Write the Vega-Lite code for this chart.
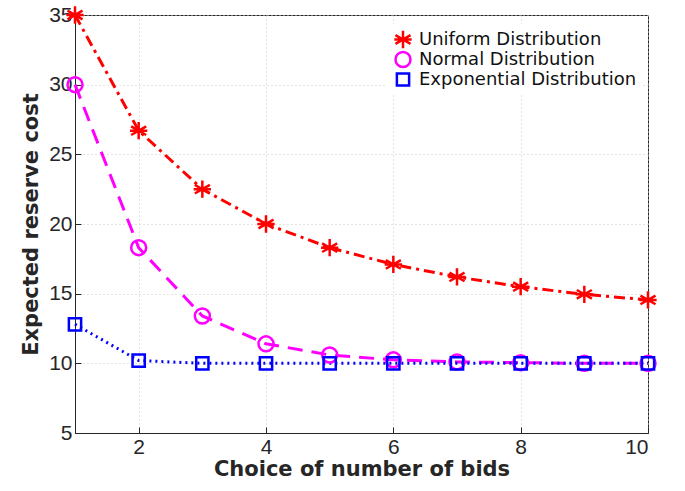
{
  "$schema": "https://vega.github.io/schema/vega-lite/v6.json",
  "autosize": {"type": "none"},
  "padding": {"left": 75, "top": 15, "right": 37, "bottom": 58},
  "width": 573,
  "height": 418,
  "background": "white",
  "config": {
    "font": "Liberation Sans",
    "view": {"stroke": "#262626", "strokeWidth": 1},
    "axis": {
      "labelFont": "Liberation Sans",
      "labelFontSize": 21,
      "labelColor": "#262626",
      "titleFont": "DejaVu Sans",
      "titleFontSize": 21,
      "titleFontWeight": "bold",
      "titleColor": "#262626",
      "domainColor": "#262626",
      "tickColor": "#262626",
      "tickSize": -6,
      "labelPadding": 9,
      "grid": true,
      "gridDash": [1, 3],
      "gridColor": "#c8c8c8"
    }
  },
  "data": {
    "values": [
      {"n": 1, "cost": 35, "dist": "Uniform Distribution"},
      {"n": 2, "cost": 26.7, "dist": "Uniform Distribution"},
      {"n": 3, "cost": 22.5, "dist": "Uniform Distribution"},
      {"n": 4, "cost": 20.0, "dist": "Uniform Distribution"},
      {"n": 5, "cost": 18.3, "dist": "Uniform Distribution"},
      {"n": 6, "cost": 17.1, "dist": "Uniform Distribution"},
      {"n": 7, "cost": 16.2, "dist": "Uniform Distribution"},
      {"n": 8, "cost": 15.5, "dist": "Uniform Distribution"},
      {"n": 9, "cost": 14.95, "dist": "Uniform Distribution"},
      {"n": 10, "cost": 14.55, "dist": "Uniform Distribution"},
      {"n": 1, "cost": 30, "dist": "Normal Distribution"},
      {"n": 2, "cost": 18.3, "dist": "Normal Distribution"},
      {"n": 3, "cost": 13.4, "dist": "Normal Distribution"},
      {"n": 4, "cost": 11.4, "dist": "Normal Distribution"},
      {"n": 5, "cost": 10.6, "dist": "Normal Distribution"},
      {"n": 6, "cost": 10.25, "dist": "Normal Distribution"},
      {"n": 7, "cost": 10.1, "dist": "Normal Distribution"},
      {"n": 8, "cost": 10.05, "dist": "Normal Distribution"},
      {"n": 9, "cost": 10.0, "dist": "Normal Distribution"},
      {"n": 10, "cost": 10.0, "dist": "Normal Distribution"},
      {"n": 1, "cost": 12.8, "dist": "Exponential Distribution"},
      {"n": 2, "cost": 10.2, "dist": "Exponential Distribution"},
      {"n": 3, "cost": 10.0, "dist": "Exponential Distribution"},
      {"n": 4, "cost": 10.0, "dist": "Exponential Distribution"},
      {"n": 5, "cost": 10.0, "dist": "Exponential Distribution"},
      {"n": 6, "cost": 10.0, "dist": "Exponential Distribution"},
      {"n": 7, "cost": 10.0, "dist": "Exponential Distribution"},
      {"n": 8, "cost": 10.0, "dist": "Exponential Distribution"},
      {"n": 9, "cost": 10.0, "dist": "Exponential Distribution"},
      {"n": 10, "cost": 10.0, "dist": "Exponential Distribution"}
    ]
  },
  "encoding": {
    "x": {
      "field": "n", "type": "quantitative",
      "scale": {"domain": [1, 10], "nice": false, "zero": false},
      "axis": {"values": [2, 4, 6, 8, 10], "title": "Choice of number of bids", "titlePadding": 1}
    },
    "y": {
      "field": "cost", "type": "quantitative",
      "scale": {"domain": [5, 35], "nice": false, "zero": false},
      "axis": {"values": [5, 10, 15, 20, 25, 30, 35], "title": "Expected reserve cost", "titlePadding": 7}
    },
    "color": {
      "field": "dist", "type": "nominal",
      "sort": ["Uniform Distribution", "Normal Distribution", "Exponential Distribution"],
      "scale": {
        "domain": ["Uniform Distribution", "Normal Distribution", "Exponential Distribution"],
        "range": ["#ff0000", "#ff00ff", "#0000ff"]
      },
      "legend": {
        "title": null,
        "orient": "none",
        "legendX": 312,
        "legendY": 9,
        "labelFontSize": 18,
        "labelFont": "DejaVu Sans",
        "labelColor": "#111111",
        "labelLimit": 0,
        "symbolSize": 150,
        "symbolStrokeWidth": 2.5,
        "rowPadding": 1,
        "clipHeight": 19,
        "fillColor": "white",
        "padding": 6,
        "labelOffset": 6
      }
    }
  },
  "layer": [
    {
      "transform": [{"filter": "datum.dist === 'Uniform Distribution'"}],
      "mark": {"type": "line", "strokeWidth": 3, "strokeDash": [11, 5, 3, 5]}
    },
    {
      "transform": [{"filter": "datum.dist === 'Normal Distribution'"}],
      "mark": {"type": "line", "strokeWidth": 3, "strokeDash": [15, 9]}
    },
    {
      "transform": [{"filter": "datum.dist === 'Exponential Distribution'"}],
      "mark": {"type": "line", "strokeWidth": 3, "strokeDash": [2, 4]}
    },
    {
      "mark": {"type": "point", "filled": false, "strokeWidth": 2.5, "opacity": 1},
      "encoding": {
        "shape": {
          "field": "dist", "type": "nominal",
          "sort": ["Uniform Distribution", "Normal Distribution", "Exponential Distribution"],
          "scale": {
            "domain": ["Uniform Distribution", "Normal Distribution", "Exponential Distribution"],
            "range": ["M0,-1L0,1M-0.87,-0.5L0.87,0.5M-0.87,0.5L0.87,-0.5M-1,0L1,0", "circle", "square"]
          }
        },
        "size": {
          "field": "dist", "type": "nominal",
          "scale": {
            "domain": ["Uniform Distribution", "Normal Distribution", "Exponential Distribution"],
            "range": [300, 150, 110]
          },
          "legend": null
        }
      }
    }
  ]
}
